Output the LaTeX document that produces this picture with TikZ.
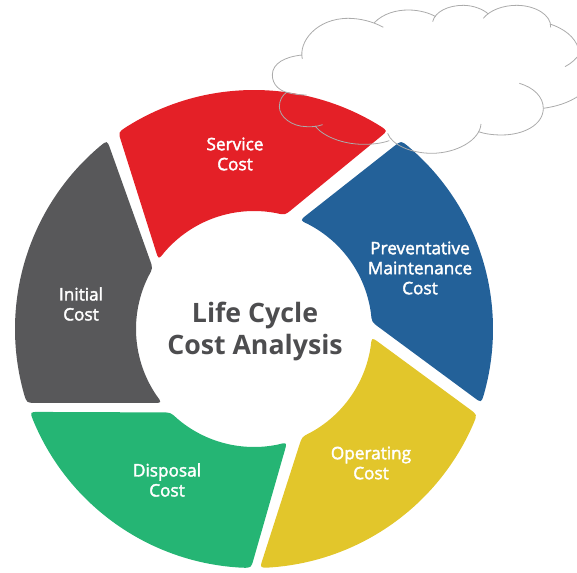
\documentclass[tikz,border=0pt]{standalone}
\usepackage{fontspec}
\usetikzlibrary{calc}
\setmainfont{Open Sans}
\newfontfamily\lbl[FakeBold=2.2]{Open Sans}
\definecolor{cred}{HTML}{E42027}
\definecolor{cgray}{HTML}{58585A}
\definecolor{cblue}{HTML}{236199}
\definecolor{cyel}{HTML}{E2C62B}
\definecolor{cgreen}{HTML}{25B574}
\definecolor{ctitle}{HTML}{4D4D4F}
\definecolor{ccloud}{HTML}{ABABAB}
\tikzset{
  seglabel/.style={text=white,font=\lbl\fontsize{17.2}{20}\selectfont,align=center,inner sep=0pt},
  titlelabel/.style={text=ctitle,font=\bfseries\fontsize{26.7}{32}\selectfont,align=center,inner sep=0pt},
  cloudline/.style={draw=ccloud,line width=0.8pt},
}
% colour, outer from, outer to, R, inner from, inner to, r
\newcommand{\seg}[7]{%
  \pgfmathsetmacro{\sgn}{(#3>#2)?1:-1}%
  \pgfmathsetmacro{\du}{\sgn*9/#4*57.3}%
  \pgfmathsetmacro{\dv}{\sgn*9/#7*57.3}%
  \pgfmathsetmacro{\aA}{#2+\du}\pgfmathsetmacro{\aB}{#3-\du}%
  \pgfmathsetmacro{\aC}{#5-\dv}\pgfmathsetmacro{\aD}{#6+\dv}%
  \coordinate (P1) at (#2:#4);\coordinate (P2) at (#3:#4);
  \coordinate (P3) at (#5:#7);\coordinate (P4) at (#6:#7);
  \fill[#1] (\aA:#4) arc[start angle=\aA,end angle=\aB,radius=#4]
    .. controls (P2) .. ($(P2)!9pt!(P3)$) -- ($(P3)!9pt!(P2)$)
    .. controls (P3) .. (\aC:#7) arc[start angle=\aC,end angle=\aD,radius=#7]
    .. controls (P4) .. ($(P4)!9pt!(P1)$) -- ($(P1)!9pt!(P4)$)
    .. controls (P1) .. cycle;}
\begin{document}
\begin{tikzpicture}[x=1pt,y=1pt]
\useasboundingbox (-254,-243) rectangle (323,329);
\seg{cred}{124.6}{56}{239}{74.8}{144}{118}
\seg{cgray}{127.9}{198}{239}{218.8}{149}{118}
\seg{cgreen}{200.3}{269.3}{239}{-73.7}{-135}{118}
\seg{cyel}{-88.6}{-21}{239}{-4}{-66}{118}
\seg{cblue}{52}{-18}{239}{3.4}{67.1}{118}
\node[seglabel] (service) at (-19,175) {Service\\Cost};
\node[seglabel] (prev) at (166,61) {Preventative\\Maintenance\\Cost};
\node[seglabel] (oper) at (117,-134) {Operating\\Cost};
\node[seglabel] (disp) at (-87,-151) {Disposal\\Cost};
\node[seglabel] (init) at (-173,25) {Initial\\Cost};
\node[titlelabel] (title) at (1,-2) {Life Cycle\\Cost Analysis};
\begin{scope}[shift={(6,329)},x=0.3333pt,y=-0.3333pt,cloudline]
\draw (127,165) .. controls (75,170) and (37,190) .. (37,225) .. controls (37,255) and (60,272) .. (80,277) .. controls (100,283) and (120,285) .. (140,285);
\draw (127,177) .. controls (115,125) and (170,55) .. (265,55) .. controls (300,55) and (340,65) .. (370,82);
\draw (343,68) .. controls (370,40) and (410,30) .. (445,30) .. controls (480,30) and (510,40) .. (527,50);
\draw (518,65) .. controls (525,35) and (565,16) .. (610,16) .. controls (640,16) and (670,28) .. (685,42);
\draw (670,55) .. controls (690,30) and (730,16) .. (770,16) .. controls (825,16) and (875,45) .. (872,82);
\draw (870,72) .. controls (910,85) and (945,110) .. (955,145);
\draw (960,160) .. controls (950,175) and (935,190) .. (915,200);
\draw (960,285) .. controls (925,310) and (885,320) .. (850,325);
\draw (778,250) .. controls (820,262) and (850,290) .. (850,325) .. controls (850,375) and (790,405) .. (725,405) .. controls (700,405) and (675,402) .. (655,395);
\draw (663,372) .. controls (660,420) and (590,460) .. (515,460) .. controls (455,460) and (395,435) .. (383,400);
\draw (165,378) .. controls (190,410) and (250,433) .. (310,433) .. controls (340,433) and (365,430) .. (388,422);
\draw (188,374) .. controls (170,380) and (155,381) .. (140,380) .. controls (95,380) and (58,350) .. (58,320) .. controls (58,300) and (68,285) .. (80,277);
\end{scope}
\end{tikzpicture}
\end{document}
